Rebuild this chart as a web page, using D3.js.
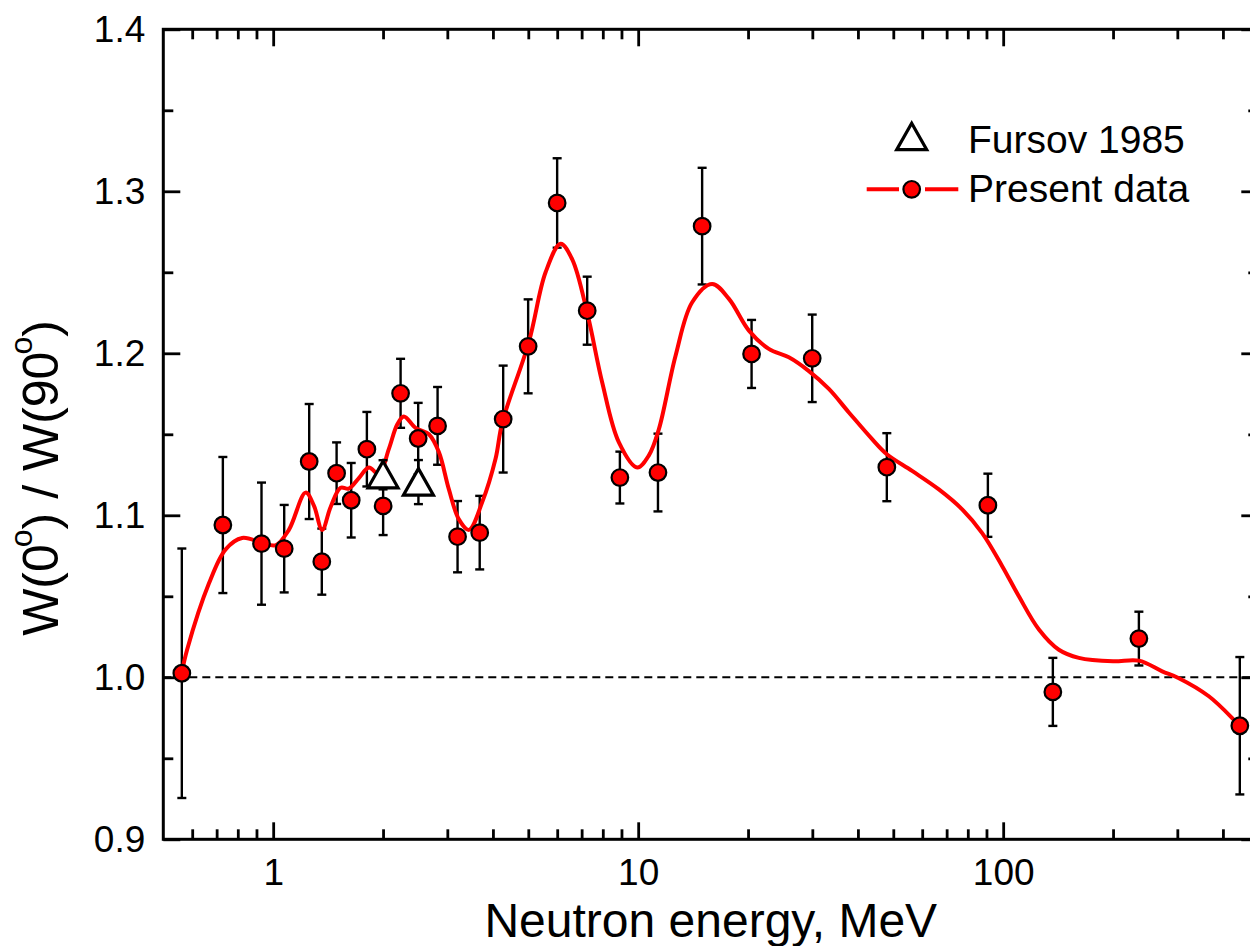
<!DOCTYPE html>
<html>
<head>
<meta charset="utf-8">
<script src="https://cdn.jsdelivr.net/npm/d3@7"></script>
<style>
  html, body { margin: 0; padding: 0; background: #fff; }
  svg { display: block; }
  text { font-family: "Liberation Sans", Arial, sans-serif; fill: #000; }
</style>
</head>
<body>
<svg id="chart" width="1250" height="946"></svg>
<script>
// ---- Data ----
const energy   = [0.562, 0.728, 0.929, 1.072, 1.255, 1.359, 1.492, 1.636, 1.806, 2.001,
                  2.234, 2.496, 2.821, 3.20, 3.68, 4.267, 4.995, 5.998, 7.25, 8.91,
                  11.33, 14.97, 20.45, 29.98, 48.0, 90.8, 136.8, 235.4, 445];
const ratio    = [1.0025, 1.094, 1.0825, 1.0794, 1.1332, 1.0714, 1.126, 1.1093, 1.1408, 1.1058,
                  1.1753, 1.1474, 1.1552, 1.0868, 1.0893, 1.1594, 1.2043, 1.2928, 1.2263, 1.1233,
                  1.1264, 1.2785, 1.1996, 1.1969, 1.1297, 1.1062, 0.991, 1.0239, 0.9701];
const ratioErr = [0.077, 0.042, 0.0377, 0.027, 0.0355, 0.0204, 0.019, 0.023, 0.023, 0.018,
                  0.0213, 0.022, 0.024, 0.022, 0.0227, 0.033, 0.029, 0.0276, 0.021, 0.016,
                  0.024, 0.036, 0.021, 0.027, 0.021, 0.0195, 0.021, 0.0166, 0.0424];

const fursovEnergy = [2.0, 2.5];
const fursovRatio  = [1.125, 1.1205];
const fursovErr    = [0.009, 0.0136];

const curveEnergy = [0.562, 0.581, 0.667, 0.741, 0.822, 0.933, 1.015, 1.104, 1.227, 1.293,
                     1.362, 1.436, 1.530, 1.612, 1.717, 1.829, 1.948, 2.075, 2.187, 2.28,
                     2.455, 2.671, 2.844, 3.03, 3.227, 3.438, 3.737, 4.068, 4.24, 5.018,
                     5.576, 6.13, 6.596, 7.25, 7.97, 8.855, 9.94, 10.70, 11.39, 12.66,
                     14.06, 15.95, 17.73, 20.11, 22.8, 25.87, 29.36, 33.3, 37.78, 43.75,
                     48.0, 56.3, 66.65, 77.2, 87.6, 99.4, 110.4, 125.3, 142.1, 161.2,
                     200, 235.4, 272.7, 302, 366, 433, 445];
const curveRatio  = [1.003, 1.017, 1.058, 1.079, 1.086, 1.083, 1.0815, 1.091, 1.114, 1.106,
                     1.091, 1.105, 1.117, 1.1165, 1.123, 1.1295, 1.1254, 1.141, 1.156, 1.161,
                     1.154, 1.150, 1.139, 1.116, 1.0975, 1.091, 1.108, 1.135, 1.157, 1.207,
                     1.250, 1.2676, 1.258, 1.225, 1.182, 1.145, 1.1295, 1.137, 1.153, 1.1985,
                     1.2315, 1.2428, 1.2336, 1.214, 1.2027, 1.1975, 1.189, 1.178, 1.1635, 1.147,
                     1.1377, 1.1274, 1.116, 1.1037, 1.089, 1.0686, 1.050, 1.0295, 1.017, 1.012,
                     1.0099, 1.0103, 1.0037, 0.9996, 0.9883, 0.9728, 0.970];

const xDomain = [0.5, 500];
const yDomain = [0.9, 1.4];
const xMajorTicks = [1, 10, 100];
const xTickLabels = ["1", "10", "100"];
const yMajorTicks = [0.9, 1.0, 1.1, 1.2, 1.3, 1.4];
const yTickLabels = ["0.9", "1.0", "1.1", "1.2", "1.3", "1.4"];
const xTitle = "Neutron energy, MeV";
const legendLabels = ["Fursov 1985", "Present data"];

// ---- Layout ----
const L = 163.3, R = 1258.3, T = 29.3, B = 839.3;
const svg = d3.select("#chart");
const x = d3.scaleLog().domain(xDomain).range([L, R]);
const y = d3.scaleLinear().domain(yDomain).range([B, T]);

const xMinor = [];
[0.1, 1, 10, 100].forEach(d => { for (let k = 2; k <= 9; k++) { const v = d * k; if (v > xDomain[0] && v < xDomain[1] && !xMajorTicks.includes(v)) xMinor.push(v); } });
const yMinor = d3.range(0, 5).map(i => +(0.95 + i * 0.1).toFixed(2));

const MAJ = 17, MIN = 10;

function styleAxis(g) {
  g.select(".domain").remove();
  g.selectAll(".tick line").attr("stroke", "#000").attr("stroke-width", 2.8);
}

// bottom
svg.append("g").attr("transform", `translate(0,${B})`)
  .call(d3.axisBottom(x).tickValues(xMajorTicks).tickFormat((d, i) => xTickLabels[i]).tickSize(-MAJ).tickPadding(19))
  .call(styleAxis)
  .selectAll("text").attr("font-size", 37).style("font-family", "Liberation Sans, Arial, sans-serif");
svg.append("g").attr("transform", `translate(0,${B})`)
  .call(d3.axisBottom(x).tickValues(xMinor).tickFormat("").tickSize(-MIN)).call(styleAxis);
// top
svg.append("g").attr("transform", `translate(0,${T})`)
  .call(d3.axisTop(x).tickValues(xMajorTicks).tickFormat("").tickSize(-MAJ)).call(styleAxis);
svg.append("g").attr("transform", `translate(0,${T})`)
  .call(d3.axisTop(x).tickValues(xMinor).tickFormat("").tickSize(-MIN)).call(styleAxis);
// left
svg.append("g").attr("transform", `translate(${L},0)`)
  .call(d3.axisLeft(y).tickValues(yMajorTicks).tickFormat((d, i) => yTickLabels[i]).tickSize(-MAJ).tickPadding(18))
  .call(styleAxis)
  .selectAll("text").attr("font-size", 37).style("font-family", "Liberation Sans, Arial, sans-serif");
svg.append("g").attr("transform", `translate(${L},0)`)
  .call(d3.axisLeft(y).tickValues(yMinor).tickFormat("").tickSize(-MIN)).call(styleAxis);
// right
svg.append("g").attr("transform", `translate(${R},0)`)
  .call(d3.axisRight(y).tickValues(yMajorTicks).tickFormat("").tickSize(-MAJ)).call(styleAxis);
svg.append("g").attr("transform", `translate(${R},0)`)
  .call(d3.axisRight(y).tickValues(yMinor).tickFormat("").tickSize(-MIN)).call(styleAxis);

// frame
svg.append("rect").attr("x", L).attr("y", T).attr("width", R - L).attr("height", B - T)
  .attr("fill", "none").attr("stroke", "#000").attr("stroke-width", 3);

// reference line at 1.0
svg.append("line").attr("x1", L).attr("x2", R).attr("y1", y(1.0)).attr("y2", y(1.0))
  .attr("stroke", "#000").attr("stroke-width", 2).attr("stroke-dasharray", "8,5");

const present = energy.map((e, i) => ({ e, v: ratio[i], err: ratioErr[i] }));
const fursov = fursovEnergy.map((e, i) => ({ e, v: fursovRatio[i], err: fursovErr[i] }));

function errorBars(data) {
  const g = svg.append("g").attr("stroke", "#000").attr("stroke-width", 2.4);
  data.forEach(d => {
    const cx = x(d.e), y1 = y(d.v + d.err), y2 = y(d.v - d.err);
    g.append("line").attr("x1", cx).attr("x2", cx).attr("y1", y1).attr("y2", y2);
    g.append("line").attr("x1", cx - 4.5).attr("x2", cx + 4.5).attr("y1", y1).attr("y2", y1);
    g.append("line").attr("x1", cx - 4.5).attr("x2", cx + 4.5).attr("y1", y2).attr("y2", y2);
  });
}

errorBars(present);

// fit curve
const curveData = curveEnergy.map((e, i) => [e, curveRatio[i]]);
svg.append("path").datum(curveData)
  .attr("fill", "none").attr("stroke", "#ff0000").attr("stroke-width", 4)
  .attr("d", d3.line().x(d => x(d[0])).y(d => y(d[1])).curve(d3.curveCatmullRom.alpha(0.5)));

// circles
svg.append("g").selectAll("circle").data(present).join("circle")
  .attr("cx", d => x(d.e)).attr("cy", d => y(d.v)).attr("r", 8.3)
  .attr("fill", "#ff0000").attr("stroke", "#000").attr("stroke-width", 2.2);

// Fursov triangles
errorBars(fursov);
const tri = (cx, cy) => `M${cx},${cy - 13.5}L${cx + 15},${cy + 13}L${cx - 15},${cy + 13}Z`;
svg.append("g").selectAll("path").data(fursov).join("path")
  .attr("d", d => tri(x(d.e), y(d.v)))
  .attr("fill", "#fff").attr("stroke", "#000").attr("stroke-width", 3.2).attr("stroke-linejoin", "miter");

// legend
const lg = svg.append("g");
lg.append("path").attr("d", tri(911.7, 136.7)).attr("fill", "#fff").attr("stroke", "#000").attr("stroke-width", 3.2);
lg.append("text").attr("x", 968).attr("y", 153.3).attr("font-size", 39).text(legendLabels[0]);
lg.append("line").attr("x1", 866.7).attr("x2", 899).attr("y1", 189.3).attr("y2", 189.3).attr("stroke", "#ff0000").attr("stroke-width", 4);
lg.append("line").attr("x1", 925).attr("x2", 958.3).attr("y1", 189.3).attr("y2", 189.3).attr("stroke", "#ff0000").attr("stroke-width", 4);
lg.append("circle").attr("cx", 911.7).attr("cy", 189.3).attr("r", 8.3).attr("fill", "#ff0000").attr("stroke", "#000").attr("stroke-width", 2.2);
lg.append("text").attr("x", 968).attr("y", 201.7).attr("font-size", 39).text(legendLabels[1]);

// axis titles
svg.append("text").attr("x", (L + R) / 2).attr("y", 937).attr("text-anchor", "middle")
  .attr("font-size", 48).text(xTitle);

const yt = svg.append("text").attr("transform", "translate(58,478) rotate(-90)")
  .attr("text-anchor", "middle").attr("font-size", 50);
yt.append("tspan").text("W(0");
yt.append("tspan").attr("font-size", 32).attr("dy", -26).attr("dx", -3).text("o");
yt.append("tspan").attr("dy", 26).text(") / W(90");
yt.append("tspan").attr("font-size", 32).attr("dy", -26).attr("dx", -3).text("o");
yt.append("tspan").attr("dy", 26).text(")");
</script>
</body>
</html>
